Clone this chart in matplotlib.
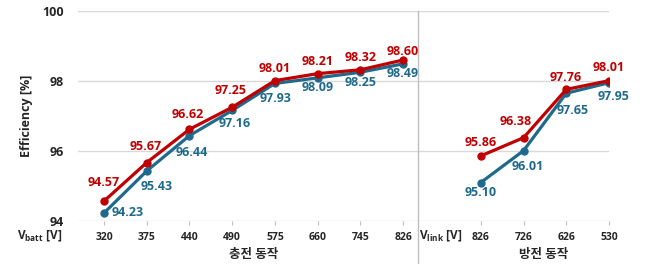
import matplotlib.pyplot as plt

plt.rcParams['font.family'] = ['Open Sans', 'Noto Sans CJK KR', 'DejaVu Sans']

# charge mode (V_batt) and discharge mode (V_link)
charge_v = ['320', '375', '440', '490', '575', '660', '745', '826']
charge_red = [94.57, 95.67, 96.62, 97.25, 98.01, 98.21, 98.32, 98.60]
charge_blue = [94.23, 95.43, 96.44, 97.16, 97.93, 98.09, 98.25, 98.49]

discharge_v = ['826', '726', '626', '530']
discharge_red = [95.86, 96.38, 97.76, 98.01]
discharge_blue = [95.10, 96.01, 97.65, 97.95]

RED = '#C00000'
BLUE = '#1F6A8C'

# x positions: gap between the two groups
xs_c = list(range(len(charge_v)))
xs_d = [8.82 + i for i in range(len(discharge_v))]

off_red = [(0, 19), (-1, 16), (-2, 15), (-2, 17), (0, 12), (0, 12), (0, 12), (0, 9),
           (0, 13), (-8, 16), (-1, 12), (0, 13)]
off_blue = [(24, 0), (10, -16), (2, -17), (2, -13), (1, -15), (0, -10), (0, -10), (0, -10),
            (0, -10), (4, -16), (6, -17), (5, -14)]

fig = plt.figure(figsize=(6.45, 2.64), dpi=100)
ax = fig.add_axes([78 / 645, 1 - 221 / 264, 531 / 645, 210 / 264])

for xs, r, b in [(xs_c, charge_red, charge_blue), (xs_d, discharge_red, discharge_blue)]:
    ax.plot(xs, b, color=BLUE, lw=2.3, marker='o', ms=5, zorder=3)
    ax.plot(xs, r, color=RED, lw=2.3, marker='o', ms=5, zorder=4)

px = 0.72  # pixels -> points at dpi 100
all_x = xs_c + xs_d
all_r = charge_red + discharge_red
all_b = charge_blue + discharge_blue
for i, x in enumerate(all_x):
    dx, dy = off_red[i]
    ax.annotate(f'{all_r[i]:.2f}', (x, all_r[i]), xytext=(dx * px, dy * px),
                textcoords='offset points', ha='center', va='center',
                color=RED, fontsize=9, fontweight='bold', zorder=5)
    dx, dy = off_blue[i]
    ax.annotate(f'{all_b[i]:.2f}', (x, all_b[i]), xytext=(dx * px, dy * px),
                textcoords='offset points', ha='center', va='center',
                color=BLUE, fontsize=9, fontweight='bold', zorder=5)

ax.set_xlim(-0.61, 11.82)
ax.set_ylim(94, 100)
ax.set_yticks([94, 96, 98, 100])
ax.grid(axis='y', color='#d9d9d9', lw=1)
ax.set_axisbelow(True)
for s in ax.spines.values():
    s.set_visible(False)

ax.set_xticks(all_x)
ax.set_xticklabels(charge_v + discharge_v)
ax.tick_params(axis='x', length=3, color='#bfbfbf', labelsize=7.5, pad=5, labelcolor='#262626')
ax.tick_params(axis='y', length=0, labelsize=9, pad=10, labelcolor='#262626')
for t in ax.get_xticklabels() + ax.get_yticklabels():
    t.set_fontweight('bold')

ax.set_ylabel('Efficiency [%]', fontsize=9, fontweight='bold', color='#262626', labelpad=7)

# divider between charge / discharge
ax.plot([7.34, 7.34], [100, 92.7], color='#bfbfbf', lw=1, clip_on=False)

ax.text(-0.98, 93.58, r'V$_{\mathregular{batt}}$ [V]', ha='right', va='center',
        fontsize=8.5, fontweight='bold', color='#262626')
ax.text(7.88, 93.58, r'V$_{\mathregular{link}}$ [V]', ha='center', va='center',
        fontsize=8.5, fontweight='bold', color='#262626')
ax.text(3.5, 93.03, '충전 동작', ha='center', va='center', fontsize=9,
        fontweight='bold', color='#262626')
ax.text(10.3, 93.03, '방전 동작', ha='center', va='center', fontsize=9,
        fontweight='bold', color='#262626')

fig.savefig('out.png', dpi=100)
